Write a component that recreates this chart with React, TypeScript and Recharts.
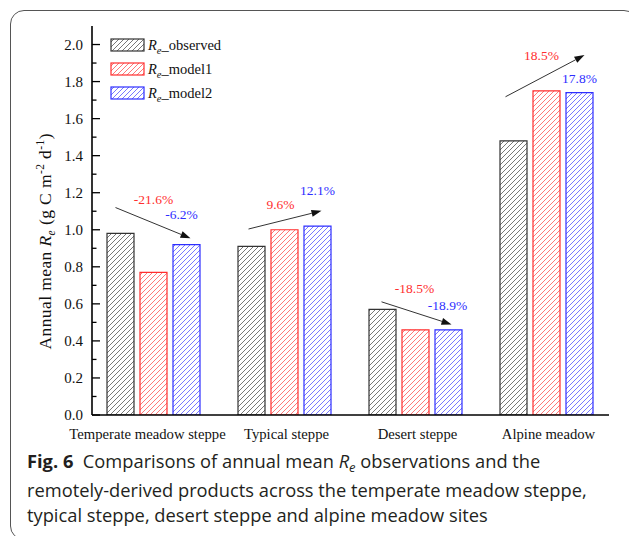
import { BarChart, Bar, XAxis, YAxis, Legend, LabelList } from 'recharts';

const sites = ['Temperate meadow steppe', 'Typical steppe', 'Desert steppe', 'Alpine meadow'];
const observed = [0.98, 0.91, 0.57, 1.48];
const model1 = [0.77, 1.0, 0.46, 1.75];
const model2 = [0.92, 1.02, 0.46, 1.74];
const change1 = ['-21.6%', '9.6%', '-18.5%', '18.5%'];
const change2 = ['-6.2%', '12.1%', '-18.9%', '17.8%'];
const majorTicks = [0, 0.2, 0.4, 0.6, 0.8, 1.0, 1.2, 1.4, 1.6, 1.8, 2.0];
const minorTicks = [0.1, 0.3, 0.5, 0.7, 0.9, 1.1, 1.3, 1.5, 1.7, 1.9];

// arrow + percentage placement, y in data units, dx in px from the model1 bar centre
const annot = [
  { x1: -38, y1: 1.12, x2: 37, y2: 0.954, rx: 0, ry: 1.164, bx: 28, by: 1.083 },
  { x1: -36, y1: 1.004, x2: 37, y2: 1.102, rx: -4, ry: 1.137, bx: 33, by: 1.21 },
  { x1: -34, y1: 0.611, x2: 36, y2: 0.489, rx: -1, ry: 0.684, bx: 32, by: 0.59 },
  { x1: -41, y1: 1.718, x2: 38, y2: 1.943, rx: -5, ry: 1.943, bx: 33, by: 1.817 },
];

const data = sites.map((s, i) => ({ site: s, observed: observed[i], model1: model1[i], model2: model2[i] }));

const SERIF = '"Liberation Serif", "Times New Roman", serif';
const RED = '#ff2e2e';
const BLUE = '#2e2eff';

const series = [
  { key: 'observed', name: 'observed', stroke: '#333', hatch: 'hatchK' },
  { key: 'model1', name: 'model1', stroke: RED, hatch: 'hatchR' },
  { key: 'model2', name: 'model2', stroke: BLUE, hatch: 'hatchB' },
];

const YTick = (props: any) => {
  const { x, y, payload } = props;
  const v = payload.value;
  const major = majorTicks.some((m) => Math.abs(m - v) < 1e-6);
  return (
    <g>
      <line x1={x} x2={x + (major ? 8 : 4.5)} y1={y} y2={y} stroke="#000" strokeWidth={1.3} />
      {major && (
        <text x={x - 9} y={y} dy={5} textAnchor="end" style={{ fontFamily: SERIF, fontSize: 15 }} fill="#111">
          {v.toFixed(1)}
        </text>
      )}
    </g>
  );
};

// the first label sits a little left of its group in the original
const XTick = (props: any) => {
  const { x, y, payload, index } = props;
  return (
    <text x={x + (index === 0 ? -6 : 2)} y={y} dy={11} textAnchor="middle"
      style={{ fontFamily: SERIF, fontSize: 14.7 }} fill="#111">
      {payload.value}
    </text>
  );
};

const YLabel = (props: any) => {
  const vb = props.viewBox || {};
  const x = vb.x + 19;
  const y = 241.5;
  return (
    <text
      x={x}
      y={y}
      transform={`rotate(-90 ${x} ${y})`}
      textAnchor="middle"
      style={{ fontFamily: SERIF, fontSize: 17.5 }}
      fill="#111"
      textLength={216}
      lengthAdjust="spacing"
    >
      <tspan>Annual mean </tspan>
      <tspan fontStyle="italic">R</tspan>
      <tspan fontStyle="italic" fontSize={11.5} dy={4}>e</tspan>
      <tspan dy={-4}> (g C m</tspan>
      <tspan fontSize={11.5} dy={-7}>-2</tspan>
      <tspan dy={7}> d</tspan>
      <tspan fontSize={11.5} dy={-7}>-1</tspan>
      <tspan dy={7}>)</tspan>
    </text>
  );
};

const Annotation = (props: any) => {
  const vb = props.viewBox || props;
  const i = props.index;
  if (i == null || !annot[i]) return null;
  const a = annot[i];
  const unit = vb.height / model1[i];
  const base = vb.y + vb.height;
  const py = (v: number) => base - v * unit;
  const cx = vb.x + vb.width / 2;
  const sx = cx + a.x1, sy = py(a.y1), ex = cx + a.x2, ey = py(a.y2);
  const ang = Math.atan2(ey - sy, ex - sx);
  const len = 10, hw = 3.5;
  const bx = ex - len * Math.cos(ang), by = ey - len * Math.sin(ang);
  const px = -Math.sin(ang), pyy = Math.cos(ang);
  const font = { fontFamily: SERIF, fontSize: 13.5 };
  return (
    <g>
      <line x1={sx} y1={sy} x2={bx} y2={by} stroke="#333" strokeWidth={1} />
      <polygon
        points={`${ex},${ey} ${bx + px * hw},${by + pyy * hw} ${bx - px * hw},${by - pyy * hw}`}
        fill="#111"
      />
      <text x={cx + a.rx} y={py(a.ry)} dy={4.5} textAnchor="middle" style={font} fill={RED}>
        {change1[i]}
      </text>
      <text x={cx + a.bx} y={py(a.by)} dy={4.5} textAnchor="middle" style={font} fill={BLUE}>
        {change2[i]}
      </text>
    </g>
  );
};

const LegendBox = () => (
  <div style={{ fontFamily: SERIF, fontSize: 14.5, color: '#111' }}>
    {series.map((s) => (
      <div key={s.key} style={{ display: 'flex', alignItems: 'center', height: 24 }}>
        <svg width={35} height={14} style={{ display: 'block' }}>
          <rect x={1} y={1} width={33} height={12} fill={`url(#${s.hatch})`} stroke={s.stroke} strokeWidth={1.2} />
        </svg>
        <span style={{ marginLeft: 3, whiteSpace: 'nowrap' }}>
          <i>R</i>
          <span style={{ fontSize: 10.5, fontStyle: 'italic', position: 'relative', top: 4 }}>e</span>
          _{s.name}
        </span>
      </div>
    ))}
  </div>
);

export default function App() {
  return (
    <div
      style={{
        position: 'absolute',
        left: 0,
        top: 0,
        width: 629,
        height: 536,
        overflow: 'hidden',
        background: '#fff',
      }}
    >
      <div
        style={{
          position: 'absolute',
          left: 10,
          top: 10,
          width: 628,
          height: 530,
          border: '1.5px solid #555',
          borderRadius: 14,
          boxSizing: 'border-box',
        }}
      />
      <div style={{ position: 'absolute', left: 0, top: 0 }}>
        <BarChart
          width={629}
          height={445}
          data={data}
          margin={{ top: 26, right: 20, left: 32, bottom: 0 }}
          barSize={27}
          barGap={6}
        >
          <defs>
            {[
              ['hatchK', '#555'],
              ['hatchR', '#ff5555'],
              ['hatchB', '#5555ff'],
            ].map(([id, c]) => (
              <pattern key={id} id={id} patternUnits="userSpaceOnUse" width={5} height={5}>
                <rect width={5} height={5} fill="#fff" />
                <path d="M0,5 L5,0 M-1,1 L1,-1 M4,6 L6,4" stroke={c} strokeWidth={0.8} />
              </pattern>
            ))}
          </defs>
          <XAxis
            dataKey="site"
            type="category"
            padding={{ left: -4, right: -3 }}
            height={30}
            tickLine={false}
            tickSize={0}
            tickMargin={13}
            axisLine={{ stroke: '#000', strokeWidth: 1.6 }}
            tick={XTick}
            interval={0}
          />
          <XAxis xAxisId="top" dataKey="site" orientation="top" height={0} tick={false} tickLine={false}
            axisLine={{ stroke: '#000', strokeWidth: 1.6 }} />
          <YAxis
            type="number"
            domain={[0, 2.1]}
            ticks={[...majorTicks, ...minorTicks].sort((a, b) => a - b)}
            interval={0}
            width={60}
            tickLine={false}
            tickSize={0}
            tickMargin={0}
            tick={YTick}
            axisLine={{ stroke: '#000', strokeWidth: 1.6 }}
            label={YLabel}
            allowDataOverflow
          />
          <YAxis yAxisId="right" orientation="right" width={0} tick={false} tickLine={false}
            axisLine={{ stroke: '#000', strokeWidth: 1.6 }} />
          <Legend
            layout="vertical"
            align="center"
            verticalAlign="middle"
            content={LegendBox}
            wrapperStyle={{ left: 110, top: 33, width: 150, height: 72 }}
          />
          {series.map((s) => (
            <Bar
              key={s.key}
              dataKey={s.key}
              name={s.name}
              fill={`url(#${s.hatch})`}
              stroke={s.stroke}
              strokeWidth={1.2}
              isAnimationActive={false}
            >
              {s.key === 'model1' && <LabelList dataKey="model1" content={Annotation} />}
            </Bar>
          ))}
        </BarChart>
      </div>
      <div
        style={{
          position: 'absolute',
          left: 27,
          top: 448,
          fontFamily: '"Open Sans", "Noto Sans", sans-serif',
          fontSize: 18.3,
          lineHeight: '25.5px',
          color: '#231f20',
          whiteSpace: 'nowrap',
        }}
      >
        <div>
          <b>Fig. 6</b>&nbsp; Comparisons of annual mean <i>R</i>
          <span style={{ fontSize: 13, fontStyle: 'italic', position: 'relative', top: 4 }}>e</span> observations and the
        </div>
        <div>remotely-derived products across the temperate meadow steppe,</div>
        <div>typical steppe, desert steppe and alpine meadow sites</div>
      </div>
    </div>
  );
}
